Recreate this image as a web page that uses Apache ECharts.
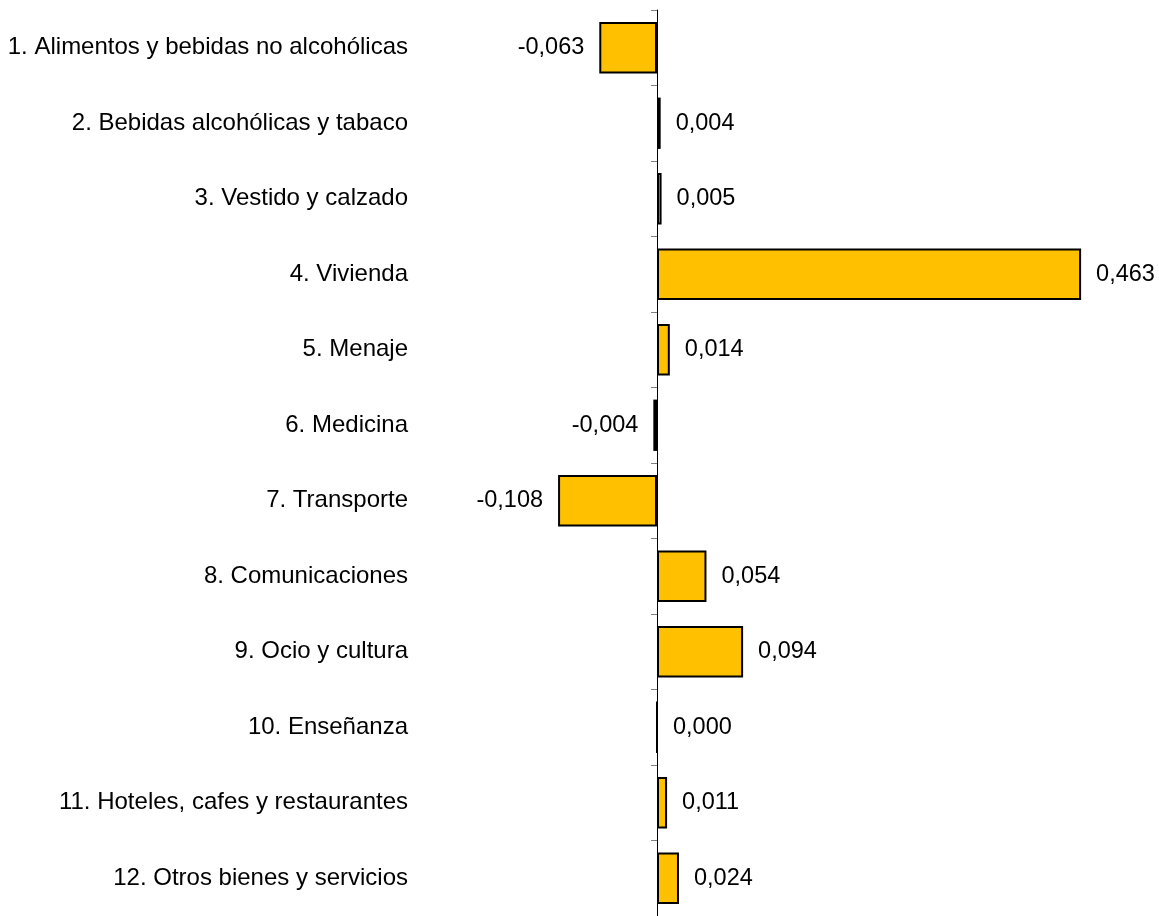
<!DOCTYPE html>
<html>
<head>
<meta charset="utf-8">
<script src="https://cdn.jsdelivr.net/npm/echarts@6/dist/echarts.min.js"></script>
<style>html,body{margin:0;padding:0;background:#fff}#chart{width:1159px;height:916px}</style>
</head>
<body>
<div id="chart"></div>
<script>
const categories = [
  "1. Alimentos y bebidas no alcohólicas",
  "2. Bebidas alcohólicas y tabaco",
  "3. Vestido y calzado",
  "4. Vivienda",
  "5. Menaje",
  "6. Medicina",
  "7. Transporte",
  "8. Comunicaciones",
  "9. Ocio y cultura",
  "10. Enseñanza",
  "11. Hoteles, cafes y restaurantes",
  "12. Otros bienes y servicios"
];
const values = [-0.063, 0.004, 0.005, 0.463, 0.014, -0.004, -0.108, 0.054, 0.094, 0.000, 0.011, 0.024];

const fmt = v => v.toFixed(3).replace('.', ',');
const chart = echarts.init(document.getElementById('chart'), null, {renderer: 'canvas'});
chart.setOption({
  animation: false,
  grid: {left: 428, top: 10, width: 687, height: 910, containLabel: false},
  xAxis: {
    type: 'value', min: -0.25, max: 0.5, show: false
  },
  yAxis: [
    {
      type: 'category', data: categories, inverse: true, position: 'left',
      axisLine: {show: false, onZero: false}, axisTick: {show: false},
      axisLabel: {color: '#000', fontFamily: "'Liberation Sans'", fontSize: 24, margin: 20}
    },
    {
      type: 'category', data: categories, inverse: true, position: 'left',
      axisLine: {show: true, onZero: true, lineStyle: {color: '#000', width: 1}},
      axisTick: {show: true, length: 6, lineStyle: {color: '#808080'}},
      axisLabel: {show: false}
    }
  ],
  series: [{
    type: 'bar',
    yAxisIndex: 0,
    data: values.map(v => ({
      value: v,
      label: {position: v < 0 ? 'left' : 'right'}
    })),
    barCategoryGap: '32%',
    itemStyle: {color: '#FFC000', borderColor: '#000', borderWidth: 2},
    label: {
      show: true, distance: 15, color: '#000',
      fontFamily: "'Liberation Sans'", fontSize: 23.5,
      formatter: p => fmt(p.value)
    }
  }]
});
</script>
</body>
</html>
